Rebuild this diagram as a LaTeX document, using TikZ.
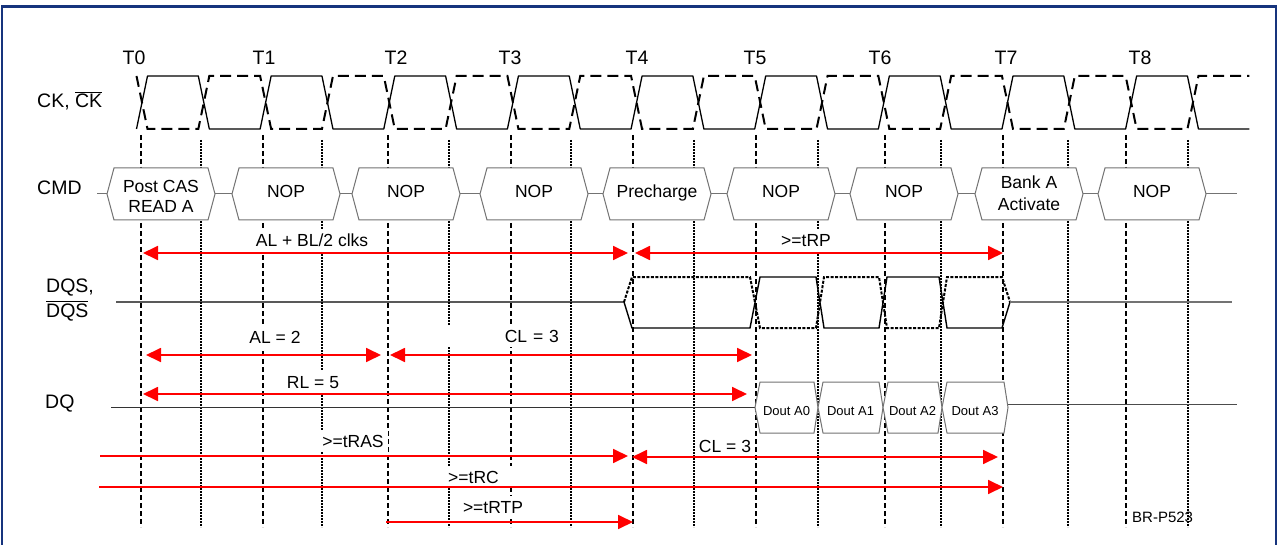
\documentclass[tikz,border=0pt]{standalone}
\usepackage{fontspec}
\setmainfont{Liberation Sans}
\usetikzlibrary{arrows.meta}
\definecolor{framecol}{RGB}{22,52,125}
\definecolor{boxcol}{RGB}{115,115,115}
\definecolor{redc}{RGB}{255,0,0}
\newcommand\ovl[1]{\setbox0=\hbox{#1}\rlap{\raisebox{\dimexpr\ht0+1.5pt\relax}{\rule{\wd0}{1.3pt}}}\box0}
\tikzset{mytip/.tip={Triangle[length=15pt,width=14pt]}}
\begin{document}
\begin{tikzpicture}[x=1pt,y=-1pt,
  tline/.style={black,line width=1.6pt,dash pattern=on 5pt off 3pt},
  hline/.style={black,line width=1.7pt,dash pattern=on 1.6pt off 1.4pt},
  cks/.style={black,line width=1.3pt,line join=round},
  ckd/.style={black,line width=2pt,dash pattern=on 11pt off 6pt},
  dqss/.style={black,line width=1.4pt},
  dqsd/.style={black,line width=2pt,dash pattern=on 3pt off 1.5pt},
  sigline/.style={boxcol,line width=1pt},
  cmdbox/.style={draw=boxcol,line width=1pt,fill=white},
  cmdtxt/.style={font=\fontsize{17.5}{20.5}\selectfont,inner sep=0pt,anchor=base},
  douttxt/.style={font=\fontsize{13}{15}\selectfont,inner sep=0pt,anchor=base},
  tlabel/.style={font=\fontsize{19.5}{22}\selectfont,inner sep=0pt,anchor=base},
  rowlabel/.style={font=\fontsize{19.5}{25}\selectfont,inner sep=0pt,anchor=base west},
  alabel/.style={font=\fontsize{17.5}{20}\selectfont,fill=white,inner xsep=4pt,inner ysep=1pt,text height=16pt,text depth=4pt,anchor=base},
  redarr/.style={redc,line width=1.8pt},
]
\useasboundingbox (0,0) rectangle (1281,545);
\fill[white] (0,0) rectangle (1281,545);
\draw[framecol,line width=2.2pt] (2,560) -- (2,6.5) -- (1276,6.5) -- (1276,560);

% figure id (under the guide lines)
\node[font=\fontsize{15}{17}\selectfont,inner sep=0pt,anchor=base west] (brp) at (1132,522) {BR-P523};

% guide lines
\foreach \x in {141,263,388,511,633,756,885,1003,1126} \draw[tline] (\x,135) -- (\x,527);
\foreach \x in {201,322,449,571,694,818,941,1068,1188} \draw[hline] (\x,140) -- (\x,527);

% clock
\draw[cks] (136.5,129) \foreach \i in {0,...,8} { -- ({147.5+123.64*\i},76) -- ({198.32+123.64*\i},76) -- ({209.32+123.64*\i},129) -- ({260.14+123.64*\i},129) };
\draw[ckd] (136.5,76) \foreach \i in {0,...,8} { -- ({147.5+123.64*\i},129) -- ({198.32+123.64*\i},129) -- ({209.32+123.64*\i},76) -- ({260.14+123.64*\i},76) };

% CMD row
\draw[sigline] (97,194) -- (1237,194);
\foreach \L in {107,232,352,480,603,727,850,975,1098}
  \draw[cmdbox] (\L,194) -- ({\L+7},168) -- ({\L+101},168) -- ({\L+108},194) -- ({\L+101},220) -- ({\L+7},220) -- cycle;
\node[cmdtxt] (c0a) at (161,193) {Post CAS};
\node[cmdtxt] (c0b) at (161,213) {READ A};
\node[cmdtxt] (c1) at (286,198) {NOP};
\node[cmdtxt] (c2) at (406,198) {NOP};
\node[cmdtxt] (c3) at (534,198) {NOP};
\node[cmdtxt] (c4) at (657,198) {Precharge};
\node[cmdtxt] (c5) at (781,198) {NOP};
\node[cmdtxt] (c6) at (904,198) {NOP};
\node[cmdtxt] (c7a) at (1029,189) {Bank A};
\node[cmdtxt] (c7b) at (1029,211) {Activate};
\node[cmdtxt] (c8) at (1152,198) {NOP};

% DQS row
\draw[dqss] (116,302) -- (624,302) -- (632,328) -- (750,328) -- (760,277) -- (816,277) -- (824,328) -- (879,328) -- (887,277) -- (939,277) -- (947,328) -- (1002,328) -- (1010,302);
\draw[dqsd] (624,302) -- (632,277) -- (750,277) -- (760,328) -- (816,328) -- (824,277) -- (879,277) -- (887,328) -- (939,328) -- (947,277) -- (1002,277) -- (1010,302);
\draw[boxcol,line width=1.3pt] (1010,302) -- (1232,302);

% DQ row
\draw[black!80,line width=1pt] (111,407) -- (755,407);
\draw[black!70,line width=1pt] (1008,404) -- (1237,404);
\foreach \a/\b in {755/818,818/883,883/942,942/1008}
  \draw[cmdbox] (\a,407.5) -- ({\a+5},382) -- ({\b-4},382) -- (\b,407.5) -- ({\b-4},433) -- ({\a+5},433) -- cycle;
\node[douttxt] (d0) at (786.5,415) {Dout A0};
\node[douttxt] (d1) at (850.5,415) {Dout A1};
\node[douttxt] (d2) at (912.5,415) {Dout A2};
\node[douttxt] (d3) at (975,415) {Dout A3};

% timing labels
\node[alabel] (lalbl) at (312,247) {AL + BL/2 clks};
\node[alabel] (ltrp) at (806,247) {>=tRP};
\node[alabel] (lal2) at (275,343) {AL = 2};
\node[alabel,anchor=base east,text width=110pt,align=right] (lcl3a) at (563,342) {CL = 3};
\node[alabel] (lrl5) at (313,388) {RL = 5};
\node[alabel] (ltras) at (353,447) {>=tRAS};
\node[alabel] (lcl3b) at (725,452) {CL = 3};
\node[alabel,anchor=base west,text width=66pt,align=left] (ltrc) at (444,483) {>=tRC};
\node[alabel] (ltrtp) at (493,513) {>=tRTP};

% timing arrows
\coordinate (albl-l) at (143,253); \coordinate (albl-r) at (628,253);
\coordinate (trp-l) at (635,253);  \coordinate (trp-r) at (1003,253);
\coordinate (al2-l) at (146,355);  \coordinate (al2-r) at (381,355);
\coordinate (cl3a-l) at (390,355); \coordinate (cl3a-r) at (752,355);
\coordinate (rl5-l) at (143,394);  \coordinate (rl5-r) at (747,394);
\coordinate (tras-s) at (100,456); \coordinate (tras-e) at (628,456);
\coordinate (cl3b-l) at (632,457); \coordinate (cl3b-r) at (998,457);
\coordinate (trc-s) at (99,487);   \coordinate (trc-e) at (1003,487);
\coordinate (trtp-s) at (386,522); \coordinate (trtp-e) at (633,522);
\draw[redarr,{mytip}-{mytip}] (albl-l) -- (albl-r);
\draw[redarr,{mytip}-{mytip}] (trp-l) -- (trp-r);
\draw[redarr,{mytip}-{mytip}] (al2-l) -- (al2-r);
\draw[redarr,{mytip}-{mytip}] (cl3a-l) -- (cl3a-r);
\draw[redarr,{mytip}-{mytip}] (rl5-l) -- (rl5-r);
\draw[redarr,-{mytip}] (tras-s) -- (tras-e);
\draw[redarr,{mytip}-{mytip}] (cl3b-l) -- (cl3b-r);
\draw[redarr,-{mytip}] (trc-s) -- (trc-e);
\draw[redarr,-{mytip}] (trtp-s) -- (trtp-e);

% clock edge labels
\foreach \x/\t in {134/0,264/1,396/2,510/3,637/4,755/5,880/6,1006/7,1140/8}
  \node[tlabel] (t\t) at (\x,65) {T\t};

% row labels
\node[rowlabel] (lck) at (37,108) {CK, \ovl{CK}};
\node[rowlabel] (lcmd) at (37,195) {CMD};
\node[rowlabel] (ldqs1) at (46,292) {DQS,};
\node[rowlabel] (ldqs2) at (46,317) {\ovl{DQS}};
\node[rowlabel] (ldq) at (45,408) {DQ};
\end{tikzpicture}
\end{document}
